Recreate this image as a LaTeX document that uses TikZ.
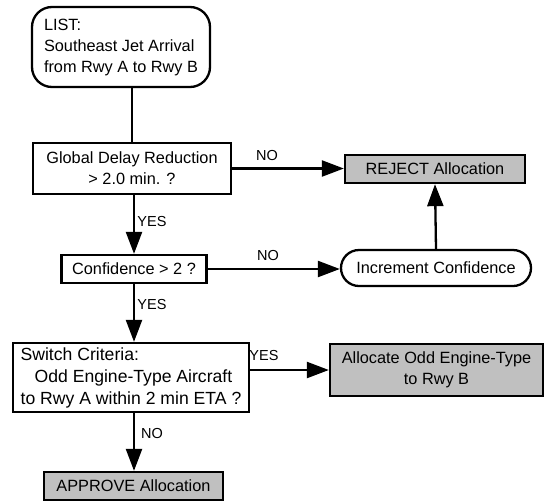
\documentclass[tikz,border=0pt]{standalone}
\usepackage{fontspec}
\setmainfont{Liberation Sans}
\usetikzlibrary{arrows.meta}
\definecolor{boxgrey}{RGB}{192,192,192}
\begin{document}
\begin{tikzpicture}[x=1pt, y=-1pt,
    every node/.style={font=\fontsize{16.3}{21}\selectfont},
    box/.style={draw, line width=2.3pt, inner sep=0pt, align=center},
    greybox/.style={box, fill=boxgrey},
    lbl/.style={font=\fontsize{14.5}{16}\selectfont},
    arr/.style={line width=2.3pt, -{Triangle[length=22pt,width=16pt]}}]
    \useasboundingbox (0,0) rectangle (545,501);

    % Start of the list
    \node[box, rounded corners=20pt, align=left, minimum width=178pt, minimum height=80pt] (list) at (121,47)
        {LIST:\\Southeast Jet Arrival\\from Rwy A to Rwy B};

    % Tests
    \node[box, minimum width=198pt, minimum height=51pt] (delay) at (132,168.5)
        {Global Delay Reduction\\> 2.0 min. ?};
    \node[box, minimum width=145pt, minimum height=28pt] (conf) at (134,269) {Confidence > 2 ?};
    \node[box, align=left, minimum width=236pt, minimum height=69pt,
          font=\fontsize{17.6}{22}\selectfont] (switch) at (131,377.5)
        {Switch Criteria:\\\hspace*{14pt}Odd Engine-Type Aircraft\\to Rwy A within 2 min ETA ?};

    % Outcomes
    \node[greybox, minimum width=180pt, minimum height=28pt] (reject) at (435,169) {REJECT Allocation};
    \node[box, rounded corners=18pt, minimum width=190pt, minimum height=36pt] (incr) at (436,268) {Increment Confidence};
    \node[greybox, minimum width=213pt, minimum height=52pt] (alloc) at (436.5,370)
        {Allocate Odd Engine-Type\\to Rwy B};
    \node[greybox, minimum width=179pt, minimum height=28pt] (approve) at (133.5,486) {APPROVE Allocation};

    % Connectors
    \draw[line width=2.3pt] (delay.north |- list.south) -- (delay.north);
    \draw[arr] (delay.east) -- (delay.east -| reject.west);
    \draw[arr] (delay.south -| conf.north) -- (conf.north);
    \draw[arr] (conf.east) -- (conf.east -| incr.west);
    \draw[arr] (incr.north) -- (reject.south);
    \draw[arr] (conf.south) -- (conf.south |- switch.north);
    \draw[arr] (switch.east |- alloc.west) -- (alloc.west);
    \draw[arr] (conf.south |- switch.south) -- (conf.south |- approve.north);

    % Labels
    \node[lbl] (no1) at (267,156) {NO};
    \node[lbl] (yes1) at (152,222) {YES};
    \node[lbl] (no2) at (268,256) {NO};
    \node[lbl] (yes2) at (152,305) {YES};
    \node[lbl] (yes3) at (264,355) {YES};
    \node[lbl] (no3) at (152,433) {NO};
\end{tikzpicture}
\end{document}
